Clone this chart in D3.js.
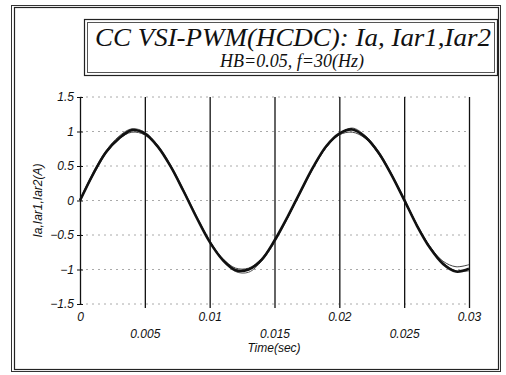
<!DOCTYPE html>
<html>
<head>
<meta charset="utf-8">
<script src="https://cdn.jsdelivr.net/npm/d3@7"></script>
<style>
  body { margin: 0; background: #fff; }
  .tick text { font-family: "Liberation Sans", Arial, sans-serif; font-style: italic; font-size: 12px; fill: #111; }
</style>
</head>
<body>
<div class="canvas"></div>
<script>
const time = d3.range(0, 31).map((i) => i / 1000);
const ia = [0, 0.38, 0.70, 0.90, 1.02, 0.97, 0.78, 0.49, 0.13, -0.25, -0.60, -0.86, -1.01, -1.00, -0.86, -0.58, -0.24, 0.13, 0.49, 0.79, 0.97, 1.03, 0.92, 0.70, 0.38, 0.01, -0.37, -0.69, -0.92, -1.03, -0.99];
const iar1 = [0.02, 0.40, 0.72, 0.93, 1.04, 0.99, 0.80, 0.51, 0.15, -0.23, -0.58, -0.85, -1.03, -1.04, -0.88, -0.61, -0.26, 0.11, 0.47, 0.77, 0.96, 1.05, 0.94, 0.72, 0.40, 0.03, -0.35, -0.67, -0.90, -1.02, -1.02];
const iar2 = [0, 0.36, 0.68, 0.89, 0.99, 0.95, 0.77, 0.48, 0.12, -0.25, -0.59, -0.84, -0.98, -0.98, -0.84, -0.58, -0.25, 0.12, 0.48, 0.77, 0.95, 0.99, 0.90, 0.68, 0.37, 0.0, -0.36, -0.67, -0.88, -0.96, -0.93];
const xTicks = [0, 0.005, 0.01, 0.015, 0.02, 0.025, 0.03];
const yTicks = [-1.5, -1, -0.5, 0, 0.5, 1, 1.5];
const title = "CC VSI-PWM(HCDC): Ia, Iar1,Iar2";
const subtitle = "HB=0.05, f=30(Hz)";

const width = 506;
const height = 375;
const plot = { left: 80, right: 469, top: 97, bottom: 304 };

const svg = d3
  .select(".canvas")
  .append("svg")
  .attr("width", width)
  .attr("height", height);

// outer double frame
svg.append("rect").attr("x", 11.5).attr("y", 5.5).attr("width", 489).attr("height", 366)
  .attr("fill", "none").attr("stroke", "#333").attr("stroke-width", 1);
svg.append("rect").attr("x", 14.5).attr("y", 7.5).attr("width", 484).attr("height", 362)
  .attr("fill", "none").attr("stroke", "#222").attr("stroke-width", 1.2);

// title box
svg.append("rect").attr("x", 84.5).attr("y", 19.5).attr("width", 413).attr("height", 56)
  .attr("fill", "none").attr("stroke", "#222").attr("stroke-width", 1.2);
svg.append("rect").attr("x", 87.5).attr("y", 22.5).attr("width", 407).attr("height", 50)
  .attr("fill", "none").attr("stroke", "#555").attr("stroke-width", 1);

svg.append("text")
  .attr("x", 293).attr("y", 46)
  .attr("text-anchor", "middle")
  .attr("font-family", "'Liberation Serif', 'Times New Roman', serif")
  .attr("font-style", "italic")
  .attr("font-size", 26)
  .attr("textLength", 396)
  .attr("lengthAdjust", "spacingAndGlyphs")
  .attr("fill", "#111")
  .text(title);

svg.append("text")
  .attr("x", 292).attr("y", 67)
  .attr("text-anchor", "middle")
  .attr("font-family", "'Liberation Serif', 'Times New Roman', serif")
  .attr("font-style", "italic")
  .attr("font-size", 18)
  .attr("fill", "#111")
  .text(subtitle);

// scales
const x = d3.scaleLinear().domain([0, 0.03]).range([plot.left, plot.right]);
const y = d3.scaleLinear().domain([-1.5, 1.5]).range([plot.bottom, plot.top]);

// horizontal dotted grid
svg.append("g")
  .selectAll("line")
  .data(yTicks)
  .enter()
  .append("line")
  .attr("x1", plot.left)
  .attr("x2", plot.right)
  .attr("y1", (d) => y(d))
  .attr("y2", (d) => y(d))
  .attr("stroke", "#aaa")
  .attr("stroke-width", 1)
  .attr("stroke-dasharray", "2,4");

// x axis: vertical solid grid lines + staggered labels
const xAxis = d3.axisBottom(x)
  .tickValues(xTicks)
  .tickSize(-(plot.bottom - plot.top))
  .tickSizeOuter(0)
  .tickFormat((d) => d3.format("~g")(d));

const xAxisGroup = svg.append("g")
  .attr("transform", `translate(0, ${plot.bottom + 4})`)
  .call(xAxis);
xAxisGroup.select(".domain").remove();
xAxisGroup.selectAll(".tick line")
  .attr("stroke", "#111")
  .attr("stroke-width", 1.3)
  .attr("y1", 0)
  .attr("y2", -(plot.bottom - plot.top + 4));
xAxisGroup.selectAll(".tick text")
  .attr("y", (d, i) => (i % 2 === 0 ? 4 : 21))
  .attr("dy", "0.71em");
xAxisGroup.selectAll(".tick").filter((d) => d === 0).select("line").remove();

// y axis
const yAxis = d3.axisLeft(y)
  .tickValues(yTicks)
  .tickSize(3)
  .tickSizeOuter(0)
  .tickFormat((d) => d3.format("~g")(d));

const yAxisGroup = svg.append("g")
  .attr("transform", `translate(${plot.left}, 0)`)
  .call(yAxis);
yAxisGroup.select(".domain").attr("stroke", "#111").attr("stroke-width", 1.3);
yAxisGroup.selectAll(".tick line").attr("x2", 3).attr("x1", -3).attr("stroke", "#111");
yAxisGroup.selectAll(".tick text").attr("x", -6);

// axis titles
svg.append("text")
  .attr("transform", `translate(42, ${(plot.top + plot.bottom) / 2}) rotate(-90)`)
  .attr("text-anchor", "middle")
  .attr("font-family", "'Liberation Sans', Arial, sans-serif")
  .attr("font-style", "italic")
  .attr("font-size", 12)
  .attr("fill", "#111")
  .text("Ia,Iar1,Iar2(A)");

svg.append("text")
  .attr("x", 274).attr("y", 352)
  .attr("text-anchor", "middle")
  .attr("font-family", "'Liberation Sans', Arial, sans-serif")
  .attr("font-style", "italic")
  .attr("font-size", 12)
  .attr("fill", "#111")
  .text("Time(sec)");

// curves
const line = (vals) => d3.line()
  .x((d, i) => x(time[i]))
  .y((d) => y(d))
  .curve(d3.curveCatmullRom)(vals);

const series = [
  { vals: iar1, stroke: "#555", width: 1 },
  { vals: iar2, stroke: "#444", width: 1 },
  { vals: ia, stroke: "#111", width: 2.6 }
];

svg.append("g")
  .selectAll("path")
  .data(series)
  .enter()
  .append("path")
  .attr("d", (d) => line(d.vals))
  .attr("fill", "none")
  .attr("stroke", (d) => d.stroke)
  .attr("stroke-width", (d) => d.width);
</script>
</body>
</html>
